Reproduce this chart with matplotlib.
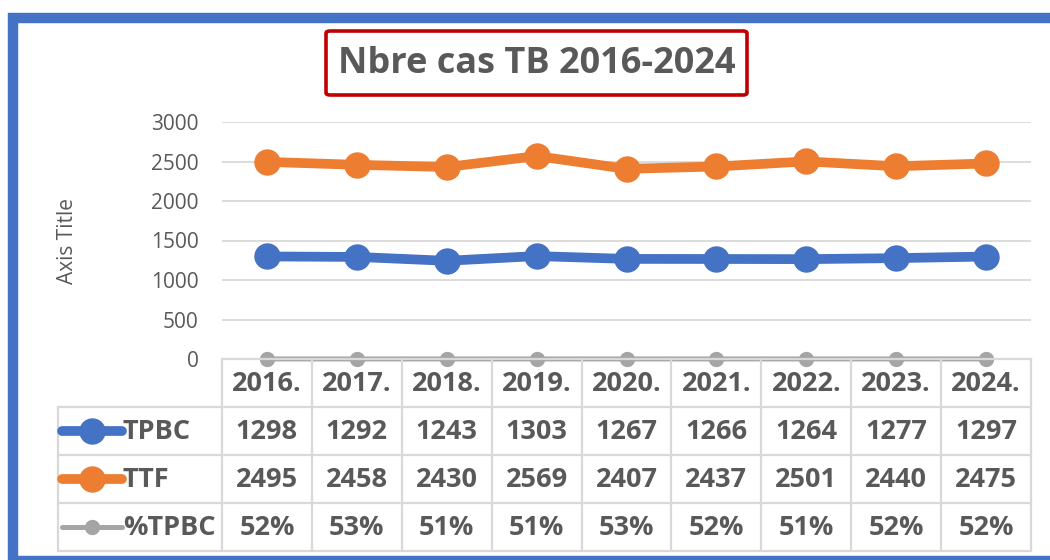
import matplotlib
matplotlib.use('Agg')
import matplotlib.pyplot as plt
from matplotlib.patches import Rectangle, FancyBboxPatch
from matplotlib.lines import Line2D

# Data
years = ['2016.', '2017.', '2018.', '2019.', '2020.', '2021.', '2022.', '2023.', '2024.']
tpbc = [1298, 1292, 1243, 1303, 1267, 1266, 1264, 1277, 1297]
ttf = [2495, 2458, 2430, 2569, 2407, 2437, 2501, 2440, 2475]
pct_tpbc = [52, 53, 51, 51, 53, 52, 51, 52, 52]
series_names = ['TPBC', 'TTF', '%TPBC']
y_ticks = [0, 500, 1000, 1500, 2000, 2500, 3000]

BLUE = '#4472C4'
ORANGE = '#ED7D31'
GRAY = '#A5A5A5'
TEXT = '#595959'
GRID = '#D9D9D9'

plt.rcParams['font.family'] = ['Open Sans', 'DejaVu Sans']

W, H = 1050, 560
fig = plt.figure(figsize=(W / 100, H / 100), dpi=100)


def px_rect(x0, y0, x1, y1):
    """pixel box (top-left origin) -> figure fraction rect"""
    return [x0 / W, (H - y1) / H, (x1 - x0) / W, (y1 - y0) / H]


# outer blue frame
fig.patches.append(Rectangle((13 / W, (H - 561) / H), (1065 - 13) / W, (561 - 18) / H,
                             transform=fig.transFigure, fill=False,
                             edgecolor=BLUE, linewidth=7.5, zorder=0))

# title in red box
fig.patches.append(FancyBboxPatch((326 / W, (H - 95) / H), (747 - 326) / W, (95 - 31) / H,
                                  boxstyle='round,pad=0,rounding_size=0.004',
                                  transform=fig.transFigure, fill=False,
                                  edgecolor='#C00000', linewidth=2.6))
fig.text(537 / W, (H - 64) / H, 'Nbre cas TB 2016-2024', ha='center', va='center',
         fontsize=26, fontweight='bold', color=TEXT)

# main plot
ax = fig.add_axes(px_rect(222, 122, 1031, 359))
x = list(range(len(years)))
ax.plot(x, tpbc, color=BLUE, lw=7, marker='o', ms=18, solid_capstyle='round', zorder=3)
ax.plot(x, ttf, color=ORANGE, lw=7, marker='o', ms=18, solid_capstyle='round', zorder=3)
ax.plot(x, [p / 100 for p in pct_tpbc], color=GRAY, lw=3.6, marker='o', ms=10,
        clip_on=False, zorder=4)
ax.set_xlim(-0.5, len(years) - 0.5)
ax.set_ylim(0, 3000)
ax.set_yticks(y_ticks)
ax.set_xticks([])
ax.tick_params(axis='y', length=0, pad=17, labelsize=15, labelcolor=TEXT)
for s in ax.spines.values():
    s.set_visible(False)
ax.grid(axis='y', color=GRID, lw=1.3)
ax.set_axisbelow(True)
ax.set_ylabel('Axis Title', fontsize=15, color=TEXT, labelpad=52)

# data table below the plot
cat_w = 809 / len(years)
xmin = -0.5 - (222 - 58) / cat_w
tab = fig.add_axes(px_rect(58, 359, 1031, 551))
tab.set_xlim(xmin, len(years) - 0.5)
tab.set_ylim(4, 0)
tab.axis('off')

lkw = dict(color=GRID, lw=1.6, clip_on=False, zorder=1)
tab.plot([-0.5, len(years) - 0.5], [0, 0], **lkw)
for r in range(1, 5):
    tab.plot([xmin, len(years) - 0.5], [r, r], **lkw)
tab.plot([xmin, xmin], [1, 4], **lkw)
for k in range(len(years) + 1):
    tab.plot([k - 0.5, k - 0.5], [0, 4], **lkw)

tkw = dict(ha='center', va='center', fontsize=19.5, fontweight='bold', color=TEXT)
rows = [[str(v) for v in tpbc], [str(v) for v in ttf], [f'{p}%' for p in pct_tpbc]]
for i, yr in enumerate(years):
    tab.text(i, 0.52, yr, **tkw)
    for r, vals in enumerate(rows):
        tab.text(i, r + 1.52, vals[i], **tkw)

# legend keys inside the table
styles = [(BLUE, 7, 18), (ORANGE, 7, 18), (GRAY, 3.6, 10)]
x0_key = xmin + (62 - 58) / cat_w
x1_key = xmin + (122 - 58) / cat_w
for r, (name, (col, lw, ms)) in enumerate(zip(series_names, styles)):
    yy = r + 1.5
    tab.add_line(Line2D([x0_key, x1_key], [yy, yy], color=col, lw=lw,
                        solid_capstyle='round', clip_on=False))
    tab.plot([(x0_key + x1_key) / 2], [yy], 'o', color=col, ms=ms, clip_on=False)
    tab.text(xmin + (123 - 58) / cat_w, yy + 0.02, name, ha='left', va='center',
             fontsize=19.5, fontweight='bold', color=TEXT)

fig.savefig('out.png', dpi=100)
